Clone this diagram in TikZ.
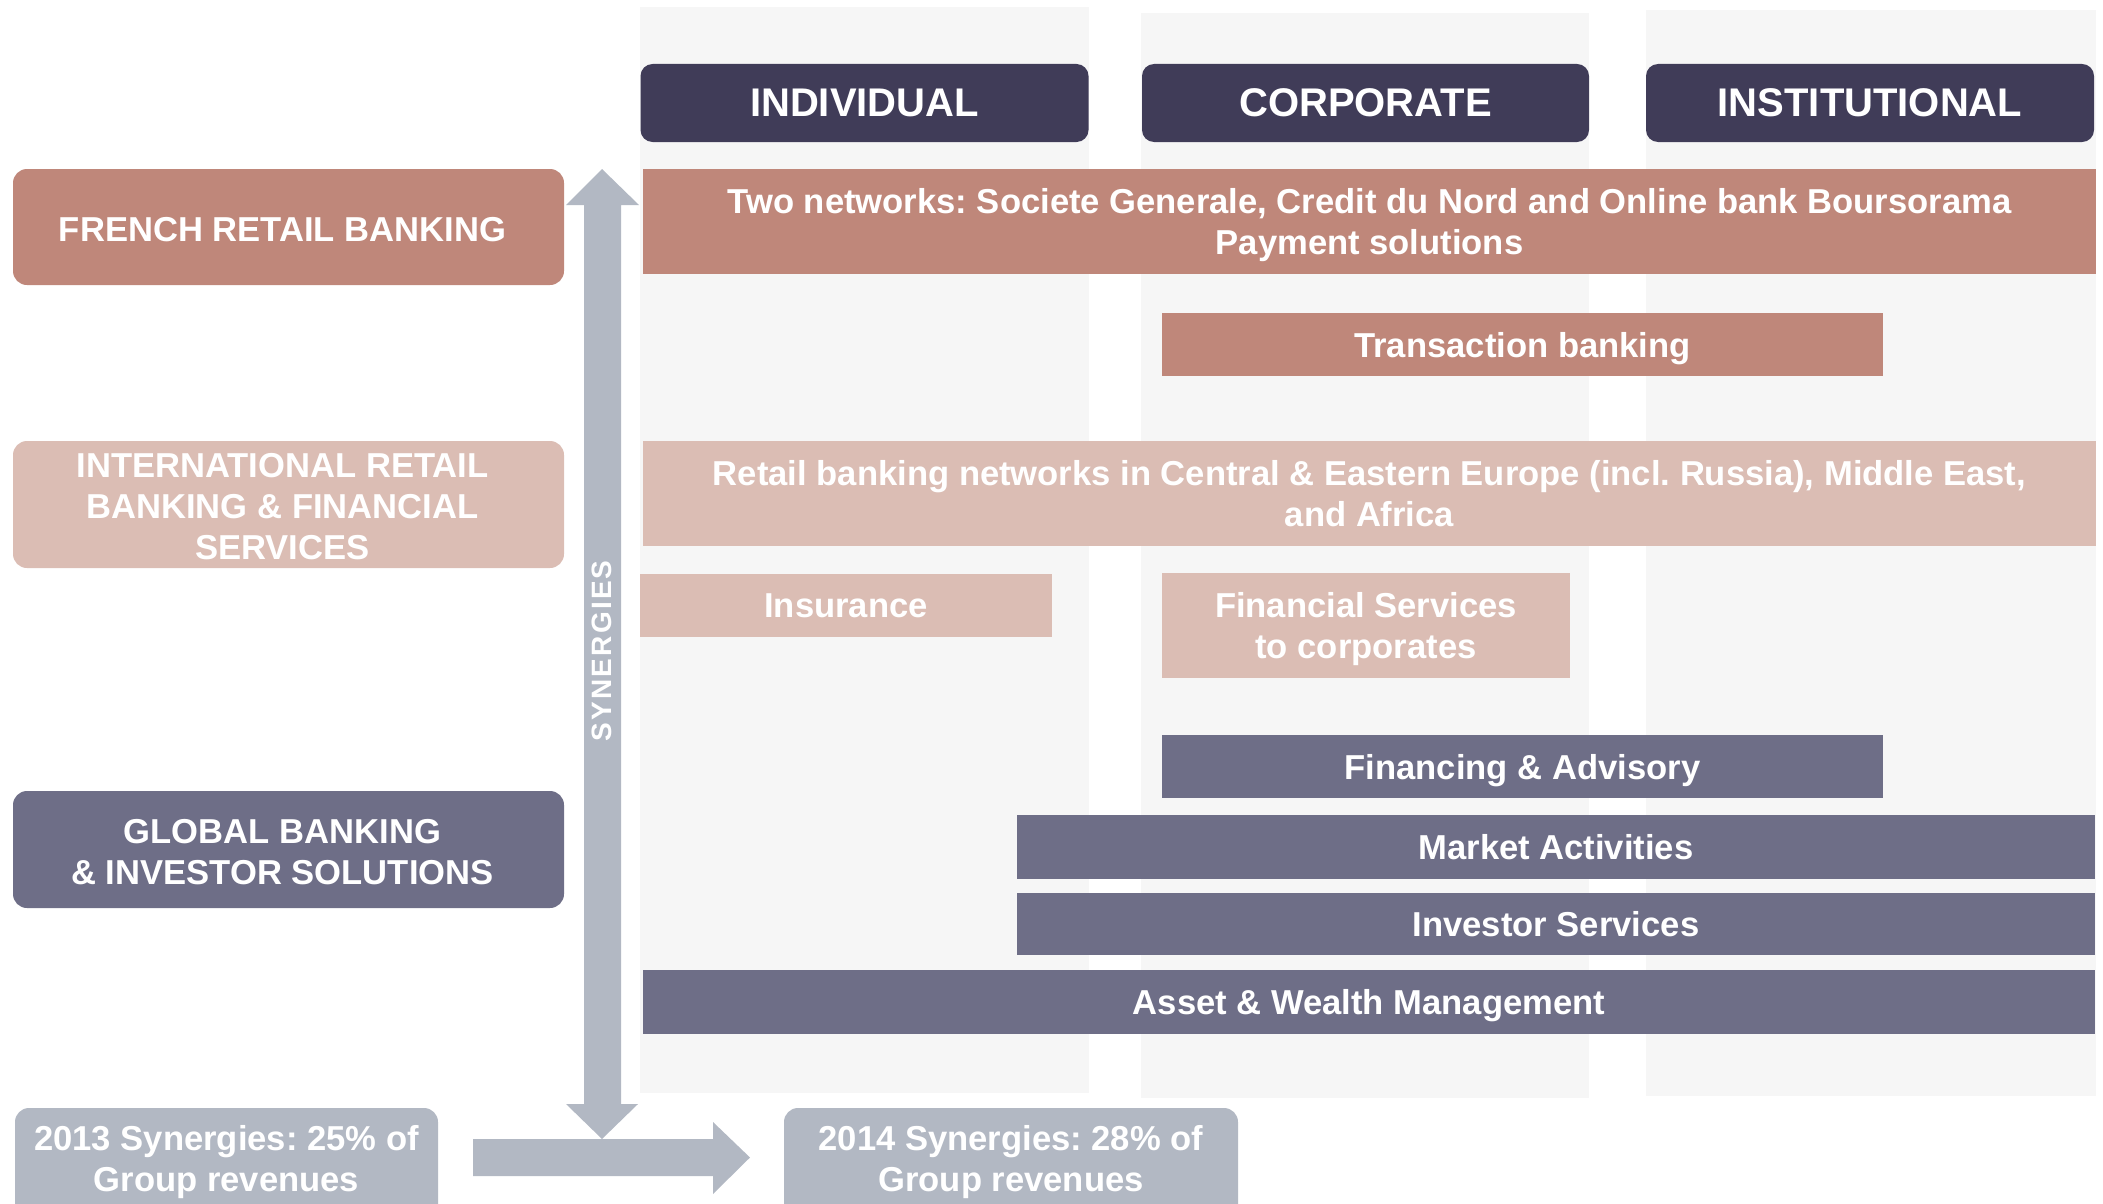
\documentclass[tikz,border=0pt]{standalone}
\usepackage{fontspec}
\setmainfont{Liberation Sans}
\usetikzlibrary{fit}
\frenchspacing

\definecolor{hdr}{HTML}{403C58}
\definecolor{frb}{HTML}{BF877A}
\definecolor{irb}{HTML}{DBBDB4}
\definecolor{gbis}{HTML}{6E6E87}
\definecolor{syn}{HTML}{B2B8C3}
\definecolor{colbg}{HTML}{F6F6F6}

\begin{document}
\begin{tikzpicture}[x=0.5pt,y=-0.5pt,
  every node/.style={inner sep=0pt, outer sep=0pt},
  lbl/.style={text=white, font=\fontsize{17.3}{20.5}\selectfont\bfseries, align=center, text depth=0pt},
  header/.style={lbl, fill=hdr, rounded corners=6pt, minimum width=224pt, minimum height=39pt,
    font=\fontsize{20}{24}\selectfont\bfseries},
  segment/.style={fill=#1, rounded corners=7pt, minimum width=275.5pt},
  seglbl/.style={lbl, xshift=-3pt, yshift=-1pt},
  bar/.style={lbl, fill=#1},
  synbox/.style={fill=syn, rounded corners=7pt},
]
\useasboundingbox (0,0) rectangle (2103,1204);
\clip (0,0) rectangle (2103,1204);

% client columns (light background bands)
\fill[colbg] (640,7) rectangle (1089,1093);
\fill[colbg] (1141,13) rectangle (1589,1098);
\fill[colbg] (1646,10) rectangle (2096,1096);

% column headers
\node[header] (ind) at (864.5,103) {INDIVIDUAL};
\node[header, minimum width=223.5pt] (corp) at (1365.5,103) {CORPORATE};
\node[header] (inst) at (1870,103) {INSTITUTIONAL};

% business segments (titles set slightly left of the box centre)
\node[segment=frb, minimum height=58pt,
  label={[seglbl]center:FRENCH RETAIL BANKING}] (frb) at (288.5,227) {};
\node[segment=irb, minimum height=63.5pt,
  label={[seglbl]center:INTERNATIONAL RETAIL\\BANKING \& FINANCIAL\\SERVICES}] (irbfs) at (288.5,504.5) {};
\node[segment=gbis, minimum height=58.5pt,
  label={[seglbl]center:GLOBAL BANKING\\\& INVESTOR SOLUTIONS}] (gbis) at (288.5,849.5) {};

% French retail banking offer
\node[bar=frb, minimum width=726.5pt, minimum height=52.5pt] (twonet) at (1369.5,221.5)
  {Two networks: Societe Generale, Credit du Nord and Online bank Boursorama\\Payment solutions};
\node[bar=frb, minimum width=360.5pt, minimum height=31.5pt] (trans) at (1522.5,344.5) {Transaction banking};

% international retail banking & financial services offer
\node[bar=irb, minimum width=726.5pt, minimum height=52.5pt] (retail) at (1369.5,493.5)
  {Retail banking networks in Central \& Eastern Europe (incl. Russia), Middle East,\\and Africa};
\node[bar=irb, minimum width=206pt, minimum height=31.5pt] (ins) at (846,605.5) {Insurance};
\node[bar=irb, minimum width=204pt, minimum height=52.5pt] (fsc) at (1366,625.5) {Financial Services\\to corporates};

% global banking & investor solutions offer
\node[bar=gbis, minimum width=360.5pt, minimum height=31.5pt] (finadv) at (1522.5,766.5) {Financing \& Advisory};
\node[bar=gbis, minimum width=539pt, minimum height=32pt] (market) at (1556,847) {Market Activities};
\node[bar=gbis, minimum width=539pt, minimum height=31pt] (invserv) at (1556,924) {Investor Services};
\node[bar=gbis, minimum width=726pt, minimum height=32pt] (awm) at (1369,1002) {Asset \& Wealth Management};

% synergies: double-headed vertical arrow
\fill[syn] (602,169) -- (639,205) -- (621,205) -- (621,1104) -- (638,1104)
  -- (602,1139) -- (566,1104) -- (584,1104) -- (584,205) -- (566,205) -- cycle;
\node[rotate=90, text=white, font=\fontsize{14}{16}\selectfont\bfseries\addfontfeature{LetterSpace=8}] (synlbl) at (602,651) {SYNERGIES};

% progression arrow between the two years
\fill[syn] (473,1139) -- (713,1139) -- (713,1122) -- (750,1157.5) -- (713,1194)
  -- (713,1176) -- (473,1176) -- cycle;

% synergy figures
\node[synbox, fit={(15,1108) (438,1280)}] (y2013) {};
\node[lbl] (t2013) at (226.5,1158) {2013 Synergies: 25\% of\\Group revenues};
\node[synbox, fit={(784,1108) (1238,1280)}] (y2014) {};
\node[lbl] (t2014) at (1011,1158) {2014 Synergies: 28\% of\\Group revenues};
\end{tikzpicture}
\end{document}
